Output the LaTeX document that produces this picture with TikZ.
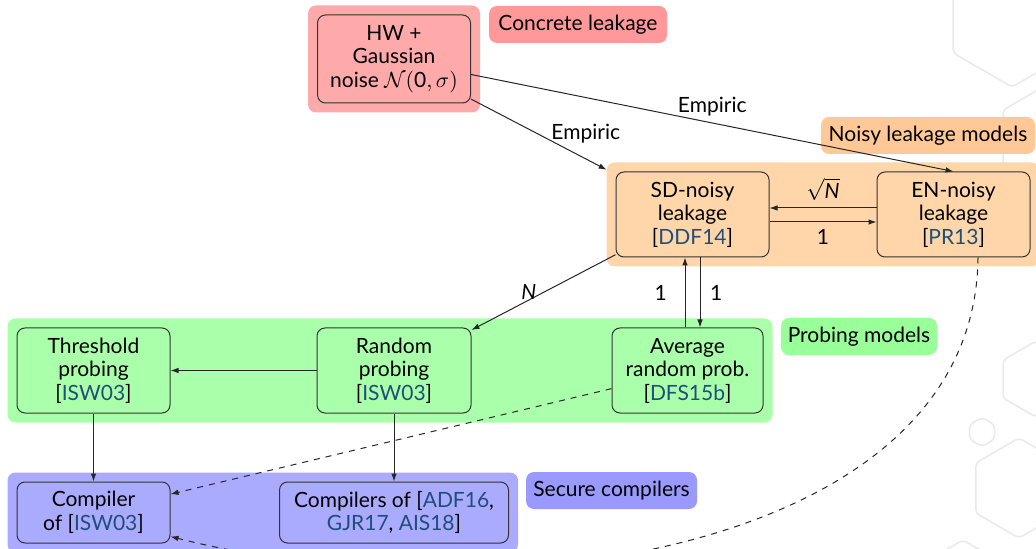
\documentclass[tikz,border=0pt]{standalone}
\usepackage{fontspec}
\setmainfont{Lato}
\usetikzlibrary{fit,backgrounds,arrows.meta}
\definecolor{pinkbg}{RGB}{255,170,170}
\definecolor{pinklab}{RGB}{255,153,153}
\definecolor{orbg}{RGB}{255,213,170}
\definecolor{orlab}{RGB}{255,200,150}
\definecolor{grbg}{RGB}{170,255,170}
\definecolor{grlab}{RGB}{153,255,153}
\definecolor{blbg}{RGB}{170,170,255}
\definecolor{bllab}{RGB}{153,153,255}
\definecolor{citec}{RGB}{31,78,121}
\definecolor{hexc}{RGB}{234,234,234}
\newcommand{\refc}[1]{\textcolor{citec}{#1}}
\begin{document}
\begin{tikzpicture}[x=0.5pt,y=-0.5pt,
  every node/.style={font=\fontsize{10.5}{11.75}\selectfont},
  box/.style={draw=black!80, line width=0.5pt, rounded corners=4pt, align=center, inner sep=0pt},
  lab/.style={rounded corners=4pt, inner sep=0pt, minimum height=18.5pt},
  grp/.style={rounded corners=4pt, inner sep=4.5pt},
  arr/.style={draw=black!85, line width=0.5pt, -{Latex[length=4pt,width=2.8pt]}},
  hexa/.style={draw=hexc, line width=0.8pt, rounded corners=2pt}]
\useasboundingbox (0,0) rectangle (1036,549);

% nodes
\node[box, minimum width=76.5pt, minimum height=44pt, fill=pinkbg] (hw) at (394,59) {HW +\\Gaussian\\noise $\mathcal{N}(\textup{0},\sigma)$};
\node[box, minimum width=76.5pt, minimum height=42.5pt, fill=orbg] (sd) at (692.5,214.5) {SD-noisy\\leakage\\{[}\refc{DDF14}{]}};
\node[box, minimum width=76.5pt, minimum height=42.5pt, fill=orbg] (en) at (953.5,214.5) {EN-noisy\\leakage\\{[}\refc{PR13}{]}};
\node[box, minimum width=76.5pt, minimum height=42.5pt, fill=grbg] (thr) at (93.5,370.5) {Threshold\\probing\\{[}\refc{ISW03}{]}};
\node[box, minimum width=77pt, minimum height=42.5pt, fill=grbg] (rnd) at (394,370.5) {Random\\probing\\{[}\refc{ISW03}{]}};
\node[box, minimum width=75.5pt, minimum height=42.5pt, fill=grbg] (avg) at (687.5,370.5) {Average\\random prob.\\{[}\refc{DFS15b}{]}};
\node[box, minimum width=76.5pt, minimum height=30.5pt, fill=blbg] (cmp) at (93.5,512.5) {Compiler\\of {[}\refc{ISW03}{]}};
\node[box, minimum width=114.5pt, minimum height=30.5pt, fill=blbg] (cmps) at (394,512.5) {Compilers of {[}\refc{ADF16},\\\refc{GJR17}, \refc{AIS18}{]}};

% labels
\node[lab, fill=pinklab, minimum width=89pt] (lpk) at (578,24.5) {Concrete leakage};
\node[lab, fill=orlab, minimum width=107pt] (lor) at (928,135.5) {Noisy leakage models};
\node[lab, fill=grlab, minimum width=78pt] (lgr) at (859,336.5) {Probing models};
\node[lab, fill=bllab, minimum width=85.5pt] (lbl) at (611.5,490.5) {Secure compilers};

% background
\begin{scope}[on background layer]
  \foreach \cx/\cy/\r in {1012/19/68, 1062/144/68, 1036/379/38, 982/432/14.5, 1019/488/50, 963/575/35}
    \draw[hexa, shift={(\cx,\cy)}] (90:\r) -- (30:\r) -- (-30:\r) -- (-90:\r) -- (-150:\r) -- (150:\r) -- cycle;
  \node[grp, fill=pinkbg, fit=(hw)] (gpk) {};
  \node[grp, fill=orbg, fit=(sd)(en)] (gor) {};
  \node[grp, fill=grbg, fit=(thr)(rnd)(avg)] (ggr) {};
  \node[grp, fill=blbg, fit=(cmp)(cmps)] (gbl) {};
\end{scope}

% connectors
\draw[arr, shorten >=5pt] (hw) -- node[midway, anchor=west, xshift=0.5pt, yshift=1.5pt] {Empiric} (sd);
\draw[arr] (hw) -- node[midway, above] {Empiric} (en.north);
\draw[arr] ([yshift=3.25pt]en.west) -- node[above] {$\sqrt{\textit{N}}$} ([yshift=3.25pt]sd.east);
\draw[arr] ([yshift=-3.75pt]sd.east) -- node[below] {1} ([yshift=-3.75pt]en.west);
\draw[arr] (sd) -- node[midway, left] {\textit{N}} (rnd);
\draw[arr] ([xshift=-3.75pt]sd.south |- avg.north) -- node[left=5.5pt] {1} ([xshift=-3.75pt]sd.south);
\draw[arr] ([xshift=3.75pt]sd.south) -- node[right=1.5pt] {1} ([xshift=3.75pt]sd.south |- avg.north);
\draw[arr] (rnd) -- (thr);
\draw[arr] (thr) -- (cmp);
\draw[arr] (rnd) -- (cmps);
\draw[arr, dashed] (avg) -- (cmp);
\draw[arr, dashed] ([xshift=12.25pt]en.south) .. controls (975,550) and (500,620) .. ([yshift=3.5pt]cmp.south east);
\end{tikzpicture}
\end{document}
